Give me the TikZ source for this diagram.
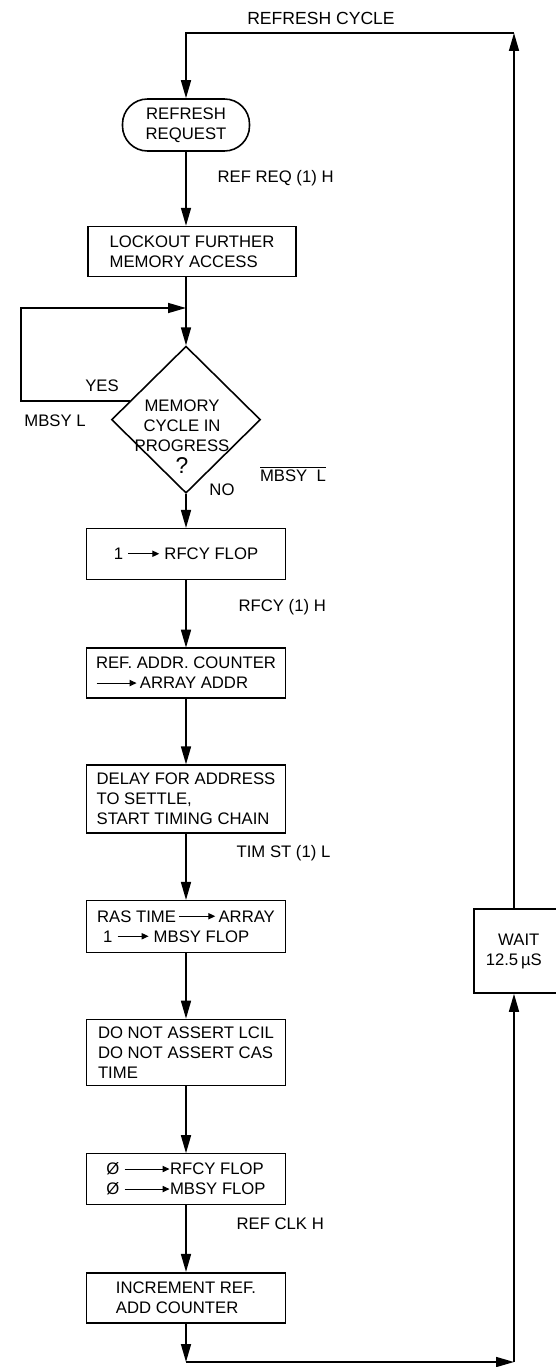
\documentclass[tikz,border=0pt]{standalone}
\usepackage{fontspec}
\setmainfont{Liberation Sans}
\usetikzlibrary{positioning,arrows.meta,calc,shapes.geometric}
\newcommand{\sigarrow}[1]{\tikz[baseline=-3.3pt]\draw[line width=0.6pt,-{Triangle[length=4pt,width=3.6pt]}] (0,0) -- (#1,0);}

\begin{document}
\begin{tikzpicture}[>={Triangle[length=0.36cm,width=0.2cm]},line width=0.9pt,
  font=\fontsize{9.5}{11.4}\selectfont,node distance=1.33cm,
  flowbox/.style={draw,minimum width=3.98cm,minimum height=1.0cm,align=left,inner ysep=2pt},
  termbox/.style={draw,rounded corners=0.5cm,minimum width=2.54cm,minimum height=1.04cm,align=center},
  decbox/.style={draw,diamond,minimum width=2.98cm,minimum height=2.94cm,inner sep=0pt}]
\useasboundingbox (0,0) rectangle (11.12,-27.34);

\node[termbox] (req) at (3.72,-2.50) {REFRESH\\REQUEST};
\node[flowbox,below=1.48cm of req,xshift=0.12cm,minimum width=4.16cm] (lock) {LOCKOUT FURTHER\\MEMORY ACCESS};
\node[decbox,below=1.36cm of lock,xshift=-0.12cm] (dia) {};
\node[align=center] (diatext) at (3.64,-8.74) {MEMORY\\CYCLE IN\\PROGRESS\\[1pt]{\fontsize{13}{13}\selectfont ?}};
\node[flowbox,below=0.68cm of dia,minimum height=1.02cm,align=center] (rfcy) {1 \sigarrow{0.62cm} RFCY FLOP};
\node[flowbox,below=1.36cm of rfcy] (addr) {REF. ADDR. COUNTER\\\sigarrow{0.8cm}\,ARRAY ADDR};
\node[flowbox,below=1.32cm of addr,minimum height=1.36cm] (delay) {DELAY FOR ADDRESS\\TO SETTLE,\\START TIMING CHAIN};
\node[flowbox,below=1.32cm of delay,minimum height=1.04cm] (ras) {RAS TIME\,\sigarrow{0.72cm}\,ARRAY\\\hspace*{0.12cm}1 \sigarrow{0.62cm} MBSY FLOP};
\node[flowbox,below=1.32cm of ras,minimum height=1.32cm] (donot) {DO NOT ASSERT LCIL\\DO NOT ASSERT CAS\\TIME};
\node[flowbox,below=1.34cm of donot,minimum height=1.02cm] (zero) {Ø \sigarrow{0.9cm}RFCY FLOP\\Ø \sigarrow{0.9cm}MBSY FLOP};
\node[flowbox,below=1.34cm of zero] (incr) {INCREMENT REF.\\ADD COUNTER};
\node[flowbox,anchor=west,minimum width=1.80cm,minimum height=1.68cm,align=center] (wait) at (9.46,-19.02) {WAIT\\12.5\,µS\hspace*{0.2cm}};

\coordinate (tr) at (10.28,-0.66);
\coordinate (tl) at (req.north |- tr);
\coordinate (br) at (10.28,-27.24);
\coordinate (bl) at (incr.south |- br);
\coordinate (loopL) at (0.42,-6.16);
\coordinate (merge) at (dia.north |- loopL);
\coordinate (yesp) at ($(dia.west)!0.25!(dia.north)$);

\node (cyclbl) at (6.42,-0.36) {\fontsize{10}{12}\selectfont REFRESH CYCLE};
\node[anchor=west] (reqlbl) at (4.22,-3.56) {REF REQ (1) H};
\node (yeslbl) at (2.04,-7.72) {YES};
\node (mbsylbl) at (1.10,-8.42) {MBSY L};
\node (nolbl) at (4.44,-9.80) {NO};
\node (nmbsylbl) at (5.86,-9.48) {$\overline{\hbox{MBSY\ \ L}}$};
\node[anchor=west] (rfcylbl) at (4.64,-12.14) {RFCY (1) H};
\node[anchor=west] (timlbl) at (4.60,-17.06) {TIM ST (1) L};
\node[anchor=west] (clklbl) at (4.60,-24.48) {REF CLK H};

\draw[->] (wait.north -| tr) -- (tr);
\draw[->] (tr) -- (tl) -- (req.north);
\draw[->] (req.south) -- (req.south |- lock.north);
\draw[->] (dia.north |- lock.south) -- (dia.north);
\draw[->] (yesp) -- (yesp -| loopL) -- (loopL) -- (merge);
\draw[->] (dia.south) -- (rfcy.north);
\foreach \from/\to in {rfcy/addr,addr/delay,delay/ras,ras/donot,donot/zero,zero/incr}
  \draw[->] (\from) -- (\to);
\draw[->] (incr.south) -- (bl);
\draw[->] (bl) -- (br);
\draw[->] (br) -- (br |- wait.south);
\end{tikzpicture}
\end{document}
